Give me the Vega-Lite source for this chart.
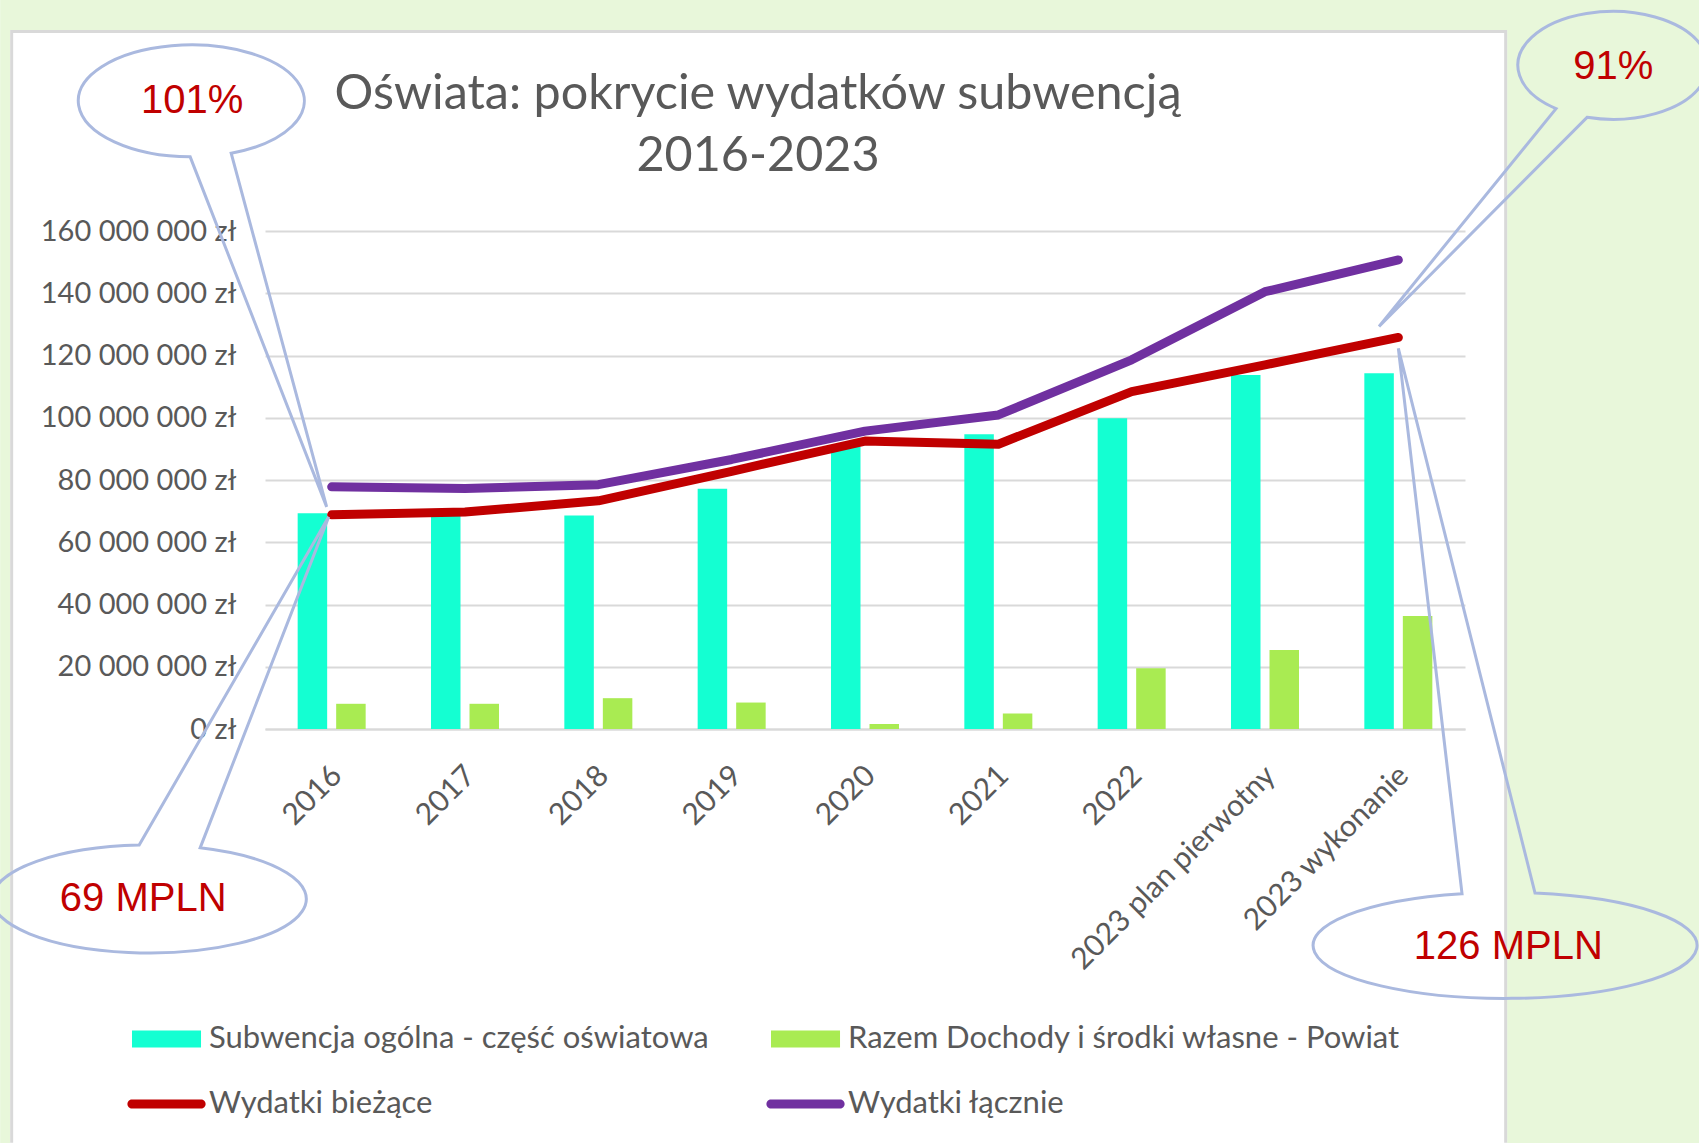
{
  "$schema": "https://vega.github.io/schema/vega-lite/v6.json",
  "width": 1200,
  "height": 498,
  "autosize": {"type": "none"},
  "padding": {"left": 265, "top": 231, "right": 234, "bottom": 414},
  "background": "white",
  "config": {"view": {"stroke": null}},
  "title": {
    "text": ["Oświata: pokrycie wydatków subwencją", "2016-2023"],
    "font": "Lato", "fontSize": 48.5, "fontWeight": "normal", "color": "#595959",
    "lineHeight": 62, "anchor": "middle", "frame": "group", "dx": -107, "offset": -229, "baseline": "bottom"
  },
  "data": {"values": [
    {"kategoria": "2016", "seria": "Subwencja ogólna - część oświatowa", "wartosc": 69300000},
    {"kategoria": "2017", "seria": "Subwencja ogólna - część oświatowa", "wartosc": 68600000},
    {"kategoria": "2018", "seria": "Subwencja ogólna - część oświatowa", "wartosc": 68600000},
    {"kategoria": "2019", "seria": "Subwencja ogólna - część oświatowa", "wartosc": 77200000},
    {"kategoria": "2020", "seria": "Subwencja ogólna - część oświatowa", "wartosc": 90800000},
    {"kategoria": "2021", "seria": "Subwencja ogólna - część oświatowa", "wartosc": 94700000},
    {"kategoria": "2022", "seria": "Subwencja ogólna - część oświatowa", "wartosc": 99800000},
    {"kategoria": "2023 plan pierwotny", "seria": "Subwencja ogólna - część oświatowa", "wartosc": 113700000},
    {"kategoria": "2023 wykonanie", "seria": "Subwencja ogólna - część oświatowa", "wartosc": 114300000},
    {"kategoria": "2016", "seria": "Razem Dochody i środki własne - Powiat", "wartosc": 8100000},
    {"kategoria": "2017", "seria": "Razem Dochody i środki własne - Powiat", "wartosc": 8100000},
    {"kategoria": "2018", "seria": "Razem Dochody i środki własne - Powiat", "wartosc": 9900000},
    {"kategoria": "2019", "seria": "Razem Dochody i środki własne - Powiat", "wartosc": 8500000},
    {"kategoria": "2020", "seria": "Razem Dochody i środki własne - Powiat", "wartosc": 1600000},
    {"kategoria": "2021", "seria": "Razem Dochody i środki własne - Powiat", "wartosc": 5000000},
    {"kategoria": "2022", "seria": "Razem Dochody i środki własne - Powiat", "wartosc": 19500000},
    {"kategoria": "2023 plan pierwotny", "seria": "Razem Dochody i środki własne - Powiat", "wartosc": 25400000},
    {"kategoria": "2023 wykonanie", "seria": "Razem Dochody i środki własne - Powiat", "wartosc": 36300000},
    {"kategoria": "2016", "seria": "Wydatki bieżące", "wartosc": 68800000},
    {"kategoria": "2017", "seria": "Wydatki bieżące", "wartosc": 69700000},
    {"kategoria": "2018", "seria": "Wydatki bieżące", "wartosc": 73300000},
    {"kategoria": "2019", "seria": "Wydatki bieżące", "wartosc": 82800000},
    {"kategoria": "2020", "seria": "Wydatki bieżące", "wartosc": 92500000},
    {"kategoria": "2021", "seria": "Wydatki bieżące", "wartosc": 91500000},
    {"kategoria": "2022", "seria": "Wydatki bieżące", "wartosc": 108400000},
    {"kategoria": "2023 plan pierwotny", "seria": "Wydatki bieżące", "wartosc": 117000000},
    {"kategoria": "2023 wykonanie", "seria": "Wydatki bieżące", "wartosc": 125800000},
    {"kategoria": "2016", "seria": "Wydatki łącznie", "wartosc": 77800000},
    {"kategoria": "2017", "seria": "Wydatki łącznie", "wartosc": 77300000},
    {"kategoria": "2018", "seria": "Wydatki łącznie", "wartosc": 78500000},
    {"kategoria": "2019", "seria": "Wydatki łącznie", "wartosc": 86600000},
    {"kategoria": "2020", "seria": "Wydatki łącznie", "wartosc": 95700000},
    {"kategoria": "2021", "seria": "Wydatki łącznie", "wartosc": 100900000},
    {"kategoria": "2022", "seria": "Wydatki łącznie", "wartosc": 118600000},
    {"kategoria": "2023 plan pierwotny", "seria": "Wydatki łącznie", "wartosc": 140500000},
    {"kategoria": "2023 wykonanie", "seria": "Wydatki łącznie", "wartosc": 150700000}
  ]},
  "encoding": {
    "x": {
      "field": "kategoria", "type": "nominal", "sort": null,
      "scale": {"paddingInner": 0.49, "paddingOuter": 0.245},
      "axis": {
        "title": null, "labelAngle": -45, "labelPadding": 31, "labelOffset": -5, "ticks": false,
        "domain": true, "domainColor": "#d9d9d9", "domainWidth": 2, "grid": false,
        "labelFont": "Lato", "labelFontSize": 30, "labelColor": "#595959", "labelLimit": 1000
      }
    },
    "y": {
      "field": "wartosc", "type": "quantitative",
      "scale": {"domain": [0, 160000000], "nice": false},
      "axis": {
        "title": null, "values": [0, 20000000, 40000000, 60000000, 80000000, 100000000, 120000000, 140000000, 160000000],
        "labelExpr": "replace(format(datum.value, ',d'), /,/g, ' ') + ' zł'",
        "grid": true, "gridColor": "#d9d9d9", "gridWidth": 2, "domain": false, "ticks": false,
        "labelPadding": 29, "labelFont": "Lato", "labelFontSize": 29, "labelColor": "#595959", "labelLimit": 1000
      }
    }
  },
  "layer": [
    {
      "transform": [{"filter": "datum.seria === 'Wydatki bieżące' && datum.kategoria === '2016'"}],
      "mark": {"type": "point", "shape": "M-331.5,-514.86L1367.5,-514.86L1367.5,-484.86L-331.5,-484.86Z M-331.5,-484.86L-321.5,-484.86L-321.5,628.14L-331.5,628.14Z M1175.5,-484.86L1367.5,-484.86L1367.5,628.14L1175.5,628.14Z", "size": 4, "filled": true, "fill": "#e8f7da", "stroke": "#e8f7da", "strokeWidth": 0, "opacity": 1}
    },
    {
      "transform": [{"filter": "datum.seria === 'Wydatki bieżące' && datum.kategoria === '2016'"}],
      "mark": {"type": "point", "shape": "M-320,628L-320,-483.4L1174,-483.4L1174,628", "size": 4, "filled": false, "stroke": "#d9d9d9", "strokeWidth": 3, "opacity": 1}
    },
    {
      "transform": [{"filter": "datum.seria === 'Subwencja ogólna - część oświatowa' || datum.seria === 'Razem Dochody i środki własne - Powiat'"}],
      "mark": {"type": "bar"},
      "encoding": {
        "xOffset": {"field": "seria", "type": "nominal", "sort": null, "scale": {"domain": ["Subwencja ogólna - część oświatowa", "Razem Dochody i środki własne - Powiat"], "paddingInner": 0.234, "paddingOuter": 0}},
        "color": {
          "field": "seria", "type": "nominal",
          "scale": {"domain": ["Subwencja ogólna - część oświatowa", "Razem Dochody i środki własne - Powiat", "Wydatki bieżące", "Wydatki łącznie"], "range": ["#14FFD2", "#A9EB52", "#C00000", "#7030A0"]},
          "legend": {
            "orient": "none", "legendX": -133, "legendY": 791, "direction": "horizontal", "columns": 2,
            "title": null, "symbolSize": 1156, "symbolStrokeWidth": 0,
            "labelFont": "Lato", "labelFontSize": 31, "labelColor": "#595959", "labelOffset": 43, "labelLimit": 1000,
            "columnPadding": 57, "rowPadding": 33, "padding": 0,
            "encode": {"symbols": {"update": {
              "shape": {"signal": "(datum.value === 'Wydatki bieżące' || datum.value === 'Wydatki łącznie') ? 'M-1,-0.27H3.06A0.27,0.27 0 0 1 3.06,0.27H-1A0.27,0.27 0 0 1 -1,-0.27Z' : 'M-1,-0.5H3.06V0.5H-1Z'"},
              "fill": {"signal": "scale('color', datum.value)"},
              "stroke": {"value": "transparent"},
              "opacity": {"value": 1}
            }}}
          }
        }
      }
    },
    {
      "transform": [{"filter": "datum.seria === 'Wydatki bieżące' || datum.seria === 'Wydatki łącznie'"}],
      "mark": {"type": "line", "strokeWidth": 9, "strokeCap": "round", "strokeJoin": "round"},
      "encoding": {
        "color": {
          "field": "seria", "type": "nominal",
          "scale": {"domain": ["Subwencja ogólna - część oświatowa", "Razem Dochody i środki własne - Powiat", "Wydatki bieżące", "Wydatki łącznie"], "range": ["#14FFD2", "#A9EB52", "#C00000", "#7030A0"]},
          "legend": {
            "orient": "none", "legendX": -133, "legendY": 791, "direction": "horizontal", "columns": 2,
            "title": null, "symbolSize": 1156, "symbolStrokeWidth": 0,
            "labelFont": "Lato", "labelFontSize": 31, "labelColor": "#595959", "labelOffset": 43, "labelLimit": 1000,
            "columnPadding": 57, "rowPadding": 33, "padding": 0,
            "encode": {"symbols": {"update": {
              "shape": {"signal": "(datum.value === 'Wydatki bieżące' || datum.value === 'Wydatki łącznie') ? 'M-1,-0.27H3.06A0.27,0.27 0 0 1 3.06,0.27H-1A0.27,0.27 0 0 1 -1,-0.27Z' : 'M-1,-0.5H3.06V0.5H-1Z'"},
              "fill": {"signal": "scale('color', datum.value)"},
              "stroke": {"value": "transparent"},
              "opacity": {"value": 1}
            }}}
          }
        }
      }
    },
    {
      "transform": [{"filter": "datum.seria === 'Wydatki bieżące' && datum.kategoria === '2016'"}],
      "mark": {"type": "point", "shape": "M-141.5,-358A113,56 0 1 1 -100.5,-361.6L-5,-8Z M-192.5,330.2A157,54 0 1 0 -131.5,333L-3,2Z", "size": 4, "filled": false, "stroke": "#aab9df", "strokeWidth": 3, "opacity": 1}
    },
    {
      "transform": [{"filter": "datum.seria === 'Wydatki bieżące' && datum.kategoria === '2023 wykonanie'"}],
      "mark": {"type": "point", "shape": "M157.7,-228.8A95,54 0 1 1 188.7,-220.1L-19.3,-11Z M63.7,556.3A192,53 0 1 0 136.7,555.6L0,11Z", "size": 4, "filled": false, "stroke": "#aab9df", "strokeWidth": 3, "opacity": 1}
    },
    {
      "transform": [{"filter": "datum.seria === 'Wydatki bieżące' && datum.kategoria === '2016'"}],
      "mark": {"type": "text", "text": "101%", "dx": -139.5, "dy": -414, "font": "Liberation Sans", "fontSize": 40, "color": "#C00000", "align": "center", "baseline": "middle"}
    },
    {
      "transform": [{"filter": "datum.seria === 'Wydatki bieżące' && datum.kategoria === '2016'"}],
      "mark": {"type": "text", "text": "69 MPLN", "dx": -188.5, "dy": 384, "font": "Liberation Sans", "fontSize": 40, "color": "#C00000", "align": "center", "baseline": "middle"}
    },
    {
      "transform": [{"filter": "datum.seria === 'Wydatki bieżące' && datum.kategoria === '2023 wykonanie'"}],
      "mark": {"type": "text", "text": "91%", "dx": 215, "dy": -270, "font": "Liberation Sans", "fontSize": 40, "color": "#C00000", "align": "center", "baseline": "middle"}
    },
    {
      "transform": [{"filter": "datum.seria === 'Wydatki bieżące' && datum.kategoria === '2023 wykonanie'"}],
      "mark": {"type": "text", "text": "126 MPLN", "dx": 110, "dy": 610, "font": "Liberation Sans", "fontSize": 40, "color": "#C00000", "align": "center", "baseline": "middle"}
    }
  ]
}
